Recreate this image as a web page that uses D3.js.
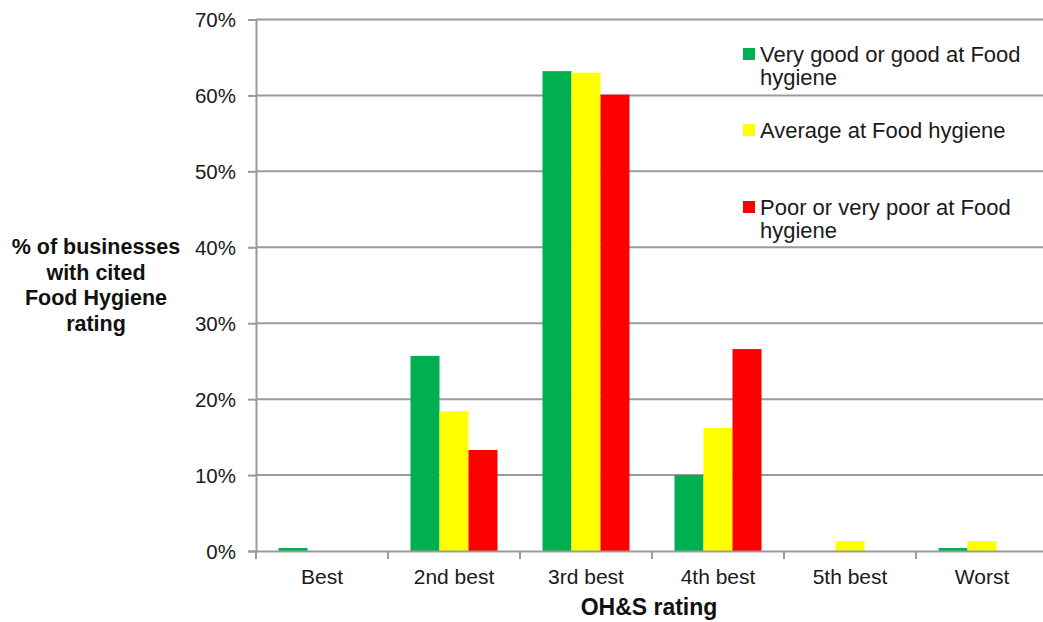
<!DOCTYPE html>
<html>
<head>
<meta charset="utf-8">
<script src="https://cdn.jsdelivr.net/npm/d3@7"></script>
<style>
  html, body { margin: 0; padding: 0; background: #fff; }
  svg { display: block; font-family: "Liberation Sans", Arial, sans-serif; }
</style>
</head>
<body>
<svg id="chart" width="1043" height="622"></svg>
<script>
// OH&S rating categories on the x axis
const categories = ["Best", "2nd best", "3rd best", "4th best", "5th best", "Worst"];

// Food hygiene groups (series)
const seriesNames = [
  "Very good or good at Food hygiene",
  "Average at Food hygiene",
  "Poor or very poor at Food hygiene"
];
const seriesColors = ["#00B050", "#FFFF00", "#FF0000"];

// Percent of businesses in each group, per OH&S rating
const goodValues    = [0.4, 25.7, 63.2, 10.0, 0.0, 0.4];
const averageValues = [0.0, 18.4, 63.0, 16.2, 1.3, 1.3];
const poorValues    = [0.0, 13.3, 60.1, 26.6, 0.0, 0.0];

const yTicks = [0, 10, 20, 30, 40, 50, 60, 70];

const seriesValues = [goodValues, averageValues, poorValues];

const svg = d3.select("#chart");
const plotLeft = 256, plotRight = 1048, plotTop = 19.5, plotBottom = 551;

const x = d3.scaleBand().domain(categories).range([plotLeft, plotRight]).paddingInner(0).paddingOuter(0);
const x1 = d3.scaleBand().domain(d3.range(3)).range([0, x.bandwidth()]).paddingOuter(0.776).paddingInner(0);
const y = d3.scaleLinear().domain([0, 70]).range([plotBottom, plotTop]);

// gridlines
svg.append("g").selectAll("line").data(yTicks.filter(d => d > 0)).join("line")
  .attr("x1", plotLeft).attr("x2", plotRight)
  .attr("y1", d => y(d)).attr("y2", d => y(d))
  .attr("stroke", "#9a9a9a").attr("stroke-width", 2);

// bars
const groups = svg.append("g").selectAll("g").data(categories).join("g")
  .attr("transform", d => `translate(${x(d)},0)`);
groups.selectAll("rect")
  .data((c, i) => seriesValues.map((vals, s) => ({ s, v: vals[i] })).filter(d => d.v > 0))
  .join("rect")
  .attr("x", d => x1(d.s))
  .attr("width", x1.bandwidth())
  .attr("y", d => y(d.v))
  .attr("height", d => y(0) - y(d.v))
  .attr("fill", d => seriesColors[d.s]);

// y axis
const yAxis = d3.axisLeft(y).tickValues(yTicks).tickFormat(d => d + "%").tickSize(8).tickPadding(12);
const gy = svg.append("g").attr("transform", `translate(${plotLeft},0)`).call(yAxis);
gy.select(".domain").attr("stroke", "#9a9a9a").attr("stroke-width", 2);
gy.selectAll(".tick line").attr("stroke", "#9a9a9a").attr("stroke-width", 2);
gy.selectAll(".tick text").attr("fill", "#1a1a1a").style("font-size", "20.5px")
  .attr("dy", "0.35em");

// x axis
const xAxis = d3.axisBottom(x).tickSize(0).tickPadding(18);
const gx = svg.append("g").attr("transform", `translate(0,${plotBottom})`).call(xAxis);
gx.select(".domain").attr("stroke", "#9a9a9a").attr("stroke-width", 2);
gx.selectAll(".tick text").attr("fill", "#1a1a1a").style("font-size", "21px");
// tick marks between categories
gx.append("g").selectAll("line").data(categories).join("line")
  .attr("x1", d => x(d)).attr("x2", d => x(d))
  .attr("y1", 0).attr("y2", 8)
  .attr("stroke", "#9a9a9a").attr("stroke-width", 2);

// axis titles
svg.append("text").attr("x", 649).attr("y", 615).attr("text-anchor", "middle")
  .attr("fill", "#111").style("font-size", "23px").style("font-weight", "bold")
  .text("OH&S rating");

const yTitle = svg.append("text").attr("text-anchor", "middle")
  .attr("fill", "#111").style("font-size", "21.5px").style("font-weight", "bold");
["% of businesses", "with cited", "Food Hygiene", "rating"].forEach((t, i) => {
  yTitle.append("tspan").attr("x", 96).attr("y", 254 + i * 25.5).text(t);
});

// legend
const legendRows = [
  { lines: ["Very good or good at Food", "hygiene"], y: 62 },
  { lines: ["Average at Food hygiene"], y: 138 },
  { lines: ["Poor or very poor at Food", "hygiene"], y: 215 }
];
const legend = svg.append("g");
legendRows.forEach((row, i) => {
  legend.append("rect").attr("x", 743).attr("y", row.y - 14).attr("width", 12).attr("height", 12)
    .attr("fill", seriesColors[i]);
  const t = legend.append("text").attr("fill", "#1a1a1a").style("font-size", "22px");
  row.lines.forEach((l, j) => {
    t.append("tspan").attr("x", 760).attr("y", row.y + j * 23).text(l);
  });
});
</script>
</body>
</html>
